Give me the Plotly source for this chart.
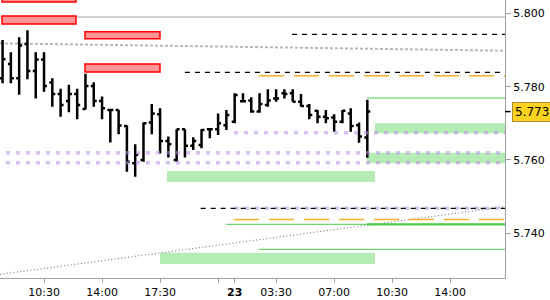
import plotly.graph_objects as go

# ---- OHLC bars (30-min bars, x = bar index) ----
bar_idx = list(range(2, 47))
opens = [5.7823, 5.7862, 5.7823, 5.7916, 5.7843, 5.7874, 5.7811, 5.7780, 5.7761, 5.7780,
         5.7739, 5.7802, 5.7761, 5.7736, 5.7736, 5.7693, 5.7591, 5.7600, 5.7702, 5.7725,
         5.7652, 5.7600, 5.7684, 5.7639, 5.7641, 5.7684, 5.7684, 5.7695, 5.7704, 5.7760,
         5.7762, 5.7732, 5.7750, 5.7768, 5.7782, 5.7782, 5.7759, 5.7747, 5.7734, 5.7718,
         5.7716, 5.7704, 5.7727, 5.7695, 5.7661]
highs = [5.7927, 5.7894, 5.7935, 5.7954, 5.7894, 5.7894, 5.7823, 5.7794, 5.7805, 5.7794,
         5.7835, 5.7812, 5.7773, 5.7736, 5.7736, 5.7695, 5.7643, 5.7702, 5.7753, 5.7741,
         5.7664, 5.7684, 5.7684, 5.7662, 5.7684, 5.7684, 5.7727, 5.7736, 5.7782, 5.7782,
         5.7771, 5.7782, 5.7793, 5.7793, 5.7793, 5.7793, 5.7780, 5.7753, 5.7736, 5.7736,
         5.7725, 5.7736, 5.7741, 5.7702, 5.7764]
lows = [5.7809, 5.7809, 5.7778, 5.7820, 5.7768, 5.7786, 5.7745, 5.7718, 5.7730, 5.7711,
        5.7738, 5.7745, 5.7711, 5.7648, 5.7670, 5.7568, 5.7554, 5.7595, 5.7670, 5.7618,
        5.7607, 5.7595, 5.7607, 5.7627, 5.7632, 5.7659, 5.7668, 5.7682, 5.7700, 5.7758,
        5.7729, 5.7729, 5.7745, 5.7759, 5.7768, 5.7759, 5.7745, 5.7711, 5.7700, 5.7700,
        5.7677, 5.7700, 5.7677, 5.7647, 5.7606]
closes = [5.7875, 5.7823, 5.7912, 5.7843, 5.7874, 5.7802, 5.7780, 5.7750, 5.7780, 5.7750,
          5.7802, 5.7761, 5.7741, 5.7736, 5.7694, 5.7595, 5.7614, 5.7700, 5.7727, 5.7652,
          5.7643, 5.7684, 5.7639, 5.7652, 5.7682, 5.7684, 5.7700, 5.7723, 5.7777, 5.7760,
          5.7732, 5.7753, 5.7762, 5.7768, 5.7780, 5.7759, 5.7747, 5.7723, 5.7718, 5.7714,
          5.7704, 5.7734, 5.7693, 5.7664, 5.7732]

# ---- axis ticks ----
x_tick_pos = [7, 14, 21, 28, 30, 35, 42, 49, 56]
x_tick_text = ["10:30", "14:00", "17:30", "", "<b>23</b>", "03:30", "07:00", "10:30", "14:00"]
y_tick_pos = [5.74, 5.76, 5.78, 5.80]
y_tick_text = ["5.740", "5.760", "5.780", "5.800"]
x_range = [1.69, 62.61]
y_range = [5.72782, 5.80363]

# ---- resistance zones (red) ----
red_x0 = [1.93, 1.93, 11.94, 11.94]
red_x1 = [10.86, 10.86, 20.99, 20.99]
red_lo = [5.8031, 5.79708, 5.79307, 5.78399]
red_hi = [5.8060, 5.79926, 5.79498, 5.78617]

# ---- support zones (green) ----
grn_x0 = [21.84, 46.93, 45.96, 20.99]
grn_x1 = [46.93, 62.61, 62.61, 46.93]
grn_lo = [5.75399, 5.76727, 5.75909, 5.73163]
grn_hi = [5.75700, 5.77000, 5.76198, 5.73471]

# ---- level lines ----
gray_level = 5.79899
black_dash_x0 = [36.91, 24.0, 25.9]
black_dash_y = [5.79427, 5.78391, 5.74682]
orange_dash_x0 = [32.93, 29.92]
orange_dash_y = [5.78300, 5.74375]
green_line_x0 = [45.96, 28.95, 45.96, 32.93]
green_line_y = [5.77690, 5.74246, 5.74246, 5.73564]
green_line_w = [1, 1, 2.2, 1]
purple_x0 = [2.41, 2.41, 29.92, 30.04]
purple_y = [5.76199, 5.75927, 5.76744, 5.74682]

# ---- trend lines ----
trend_down_x = [1.69, 62.4]
trend_down_y = [5.79182, 5.78980]
trend_up_x = [1.69, 62.61]
trend_up_y = [5.72882, 5.74725]

last_price = closes[-1]

fig = go.Figure()
fig.add_trace(go.Ohlc(
    x=bar_idx, open=opens, high=highs, low=lows, close=closes,
    increasing=dict(line=dict(color="black", width=2.5)),
    decreasing=dict(line=dict(color="black", width=2.5)),
    tickwidth=0.36, showlegend=False, hoverinfo="skip"))

shapes = []
# green zones (below bars)
for x0, x1, lo, hi in zip(grn_x0, grn_x1, grn_lo, grn_hi):
    shapes.append(dict(type="rect", xref="x", yref="y", x0=x0, x1=x1, y0=lo, y1=hi,
                       fillcolor="#b5ebb5", line=dict(width=0), layer="below"))
# gray horizontal level
shapes.append(dict(type="line", xref="x", yref="y", x0=x_range[0], x1=x_range[1],
                   y0=gray_level, y1=gray_level, line=dict(color="#a8a8a8", width=1.2), layer="below"))
# trend lines
shapes.append(dict(type="line", xref="x", yref="y", x0=trend_down_x[0], x1=trend_down_x[1],
                   y0=trend_down_y[0], y1=trend_down_y[1],
                   line=dict(color="#b8b8b8", width=2, dash="3px,2px"), layer="below"))
shapes.append(dict(type="line", xref="x", yref="y", x0=trend_up_x[0], x1=trend_up_x[1],
                   y0=trend_up_y[0], y1=trend_up_y[1],
                   line=dict(color="#808080", width=1.2, dash="1px,2.4px"), layer="below"))
# red zones
for x0, x1, lo, hi in zip(red_x0, red_x1, red_lo, red_hi):
    shapes.append(dict(type="rect", xref="x", yref="y", x0=x0, x1=x1, y0=lo, y1=hi,
                       fillcolor="#ff9494", line=dict(color="#ff0000", width=1.5), layer="above"))
# green lines
for x0, yv, w in zip(green_line_x0, green_line_y, green_line_w):
    shapes.append(dict(type="line", xref="x", yref="y", x0=x0, x1=x_range[1], y0=yv, y1=yv,
                       line=dict(color="#4ccc4c", width=w), layer="above"))
# orange dashed
for x0, yv in zip(orange_dash_x0, orange_dash_y):
    shapes.append(dict(type="line", xref="x", yref="y", x0=x0, x1=x_range[1], y0=yv, y1=yv,
                       line=dict(color="#f7b02c", width=1.5, dash="25px,10px"), layer="above"))
# purple dotted
for x0, yv in zip(purple_x0, purple_y):
    shapes.append(dict(type="line", xref="x", yref="y", x0=x0, x1=x_range[1], y0=yv, y1=yv,
                       line=dict(color="rgba(190,140,230,0.55)", width=3.5, dash="4px,6px"), layer="above"))
# black dashed
for x0, yv in zip(black_dash_x0, black_dash_y):
    shapes.append(dict(type="line", xref="x", yref="y", x0=x0, x1=x_range[1], y0=yv, y1=yv,
                       line=dict(color="black", width=1.2, dash="5px,5px"), layer="above"))
# last price tick on axis
shapes.append(dict(type="line", xref="paper", yref="y", x0=1, x1=1.011, y0=last_price, y1=last_price,
                   line=dict(color="black", width=1.5)))

fig.update_layout(
    width=550, height=300,
    margin=dict(l=0, r=45, t=0, b=22),
    paper_bgcolor="white", plot_bgcolor="white",
    shapes=shapes,
    showlegend=False,
    font=dict(family="DejaVu Sans", size=11, color="black"),
    xaxis=dict(range=x_range, rangeslider=dict(visible=False), showgrid=False, zeroline=False,
               tickmode="array", tickvals=x_tick_pos, ticktext=x_tick_text,
               ticks="outside", ticklen=4, tickcolor="#a0a0a0",
               showline=True, linecolor="#a0a0a0", linewidth=1,
               tickfont=dict(family="DejaVu Sans", size=11, color="black")),
    yaxis=dict(range=y_range, side="right", showgrid=False, zeroline=False,
               tickmode="array", tickvals=y_tick_pos, ticktext=y_tick_text,
               ticks="outside", ticklen=5, tickcolor="#a0a0a0",
               showline=True, linecolor="#a0a0a0", linewidth=1,
               tickfont=dict(family="DejaVu Sans", size=11, color="black")),
    annotations=[dict(x=1, xref="paper", y=last_price, yref="y", xanchor="left", yanchor="middle",
                      xshift=7, text="5.773", showarrow=False,
                      font=dict(family="DejaVu Sans", size=12, color="black"),
                      bgcolor="#ffd21f", bordercolor="#a88a3a", borderwidth=1, borderpad=2)],
)

fig.write_html("out.html")
